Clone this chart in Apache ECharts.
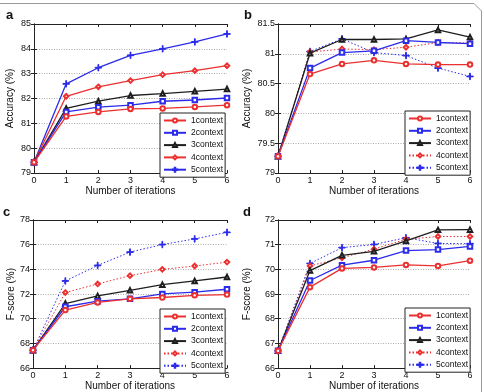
<!DOCTYPE html>
<html><head><meta charset="utf-8">
<script src="https://cdn.jsdelivr.net/npm/echarts@6/dist/echarts.min.js"></script>
<style>html,body{margin:0;padding:0;background:#fff}#c{width:484px;height:392px}</style>
</head><body><div id="c"></div>
<script>
const iterations = [0,1,2,3,4,5,6];
const contexts = ['1context','2context','3context','4context','5context'];
// Panel a: Accuracy (%)
const a1 = [79.43,81.28,81.46,81.58,81.60,81.66,81.73];
const a2 = [79.43,81.46,81.65,81.73,81.89,81.94,82.02];
const a3 = [79.43,81.60,81.89,82.12,82.20,82.29,82.38];
const a4 = [79.43,82.09,82.47,82.72,82.96,83.12,83.32];
const a5 = [79.43,82.59,83.24,83.74,84.00,84.28,84.60];
// Panel b: Accuracy (%)
const b1 = [79.28,80.66,80.83,80.89,80.83,80.82,80.82];
const b2 = [79.28,80.76,81.02,81.05,81.22,81.19,81.17];
const b3 = [79.28,81.01,81.24,81.24,81.25,81.40,81.28];
const b4 = [79.28,81.03,81.08,81.07,81.11,81.19,81.18];
const b5 = [79.28,81.04,81.25,81.02,80.97,80.76,80.62];
// Panel c: F-score (%)
const c1 = [67.45,70.70,71.32,71.61,71.72,71.90,71.96];
const c2 = [67.45,70.97,71.42,71.61,72.01,72.15,72.39];
const c3 = [67.45,71.23,71.85,72.30,72.76,73.06,73.38];
const c4 = [67.45,72.12,72.82,73.49,74.00,74.27,74.59];
const c5 = [67.45,73.06,74.32,75.40,76.01,76.47,77.00];
// Panel d: F-score (%)
const d1 = [66.70,69.28,70.04,70.08,70.18,70.14,70.35];
const d2 = [66.70,69.55,70.17,70.37,70.76,70.80,70.93];
const d3 = [66.70,69.95,70.57,70.73,71.15,71.60,71.61];
const d4 = [66.70,70.14,70.47,70.82,71.22,71.33,71.33];
const d5 = [66.70,70.24,70.88,71.01,71.28,71.05,71.04];

const panels = [
  {key:'a', data:[a1,a2,a3,a4,a5], yMin:79, yMax:85, yInt:1, yName:'Accuracy (%)', dotted:[false,false,false,false,false],
   grid:{left:34,top:24,width:193,height:149}, legend:{left:160,top:113}, nameGap:19, letter:[6,9]},
  {key:'b', data:[b1,b2,b3,b4,b5], yMin:79, yMax:81.5, yInt:0.5, yName:'Accuracy (%)', dotted:[false,false,false,true,true],
   grid:{left:278,top:24,width:192,height:149}, legend:{left:405,top:111}, nameGap:26, letter:[244,9]},
  {key:'c', data:[c1,c2,c3,c4,c5], yMin:66, yMax:78, yInt:2, yName:'F-score (%)', dotted:[false,false,false,true,true],
   grid:{left:33,top:220,width:194,height:149}, legend:{left:160,top:309}, nameGap:17, letter:[3,206]},
  {key:'d', data:[d1,d2,d3,d4,d5], yMin:66, yMax:72, yInt:1, yName:'F-score (%)', dotted:[false,false,false,true,true],
   grid:{left:278,top:220,width:192,height:149}, legend:{left:405,top:308}, nameGap:26, letter:[243,206]}
];
const RED='#ec2f2f', BLUE='#2b2bea', BLACK='#1e1e1e';
const colors=[RED,BLUE,BLACK,RED,BLUE];
const symbols=['emptyCircle','emptyRect','emptyTriangle','emptyDiamond','path://M0,4.4H10V5.6H0Z M4.4,0H5.6V10H4.4Z'];
const symSizes=[4.5,4.5,4.5,4.5,6.5];
const FONT='Liberation Sans';

const grids=[], xAxes=[], yAxes=[], series=[], legends=[], graphics=[];
panels.forEach((p,i)=>{
  grids.push(Object.assign({containLabel:false}, p.grid));
  const tick={show:true,inside:true,length:3,lineStyle:{color:'#222'}};
  const line={show:true,lineStyle:{color:'#222',width:1}};
  xAxes.push({gridIndex:i,type:'value',min:0,max:6,interval:1,position:'bottom',
    axisLine:line,axisTick:tick,splitLine:{show:false},
    axisLabel:{color:'#111',fontFamily:FONT,fontSize:9,margin:3},
    name:'Number of iterations',nameLocation:'middle',nameGap:12,
    nameTextStyle:{color:'#111',fontFamily:FONT,fontSize:10}});
  xAxes.push({gridIndex:i,type:'value',min:0,max:6,interval:1,position:'top',
    axisLine:line,axisTick:tick,splitLine:{show:false},axisLabel:{show:false}});
  yAxes.push({gridIndex:i,type:'value',min:p.yMin,max:p.yMax,interval:p.yInt,position:'left',
    axisLine:line,axisTick:tick,
    splitLine:{show:true,lineStyle:{color:'#aaa',type:[1,1.5],width:1}},
    axisLabel:{color:'#111',fontFamily:FONT,fontSize:9,margin:3},
    name:p.yName,nameLocation:'middle',nameGap:p.nameGap,nameRotate:90,
    nameTextStyle:{color:'#111',fontFamily:FONT,fontSize:10}});
  yAxes.push({gridIndex:i,type:'value',min:p.yMin,max:p.yMax,interval:p.yInt,position:'right',
    axisLine:line,axisTick:tick,splitLine:{show:false},axisLabel:{show:false}});
  const names=[];
  p.data.forEach((vals,k)=>{
    const nm=p.key+':'+contexts[k];
    names.push(nm);
    series.push({name:nm,type:'line',xAxisIndex:i*2,yAxisIndex:i*2,
      data:iterations.map((x,j)=>[x,vals[j]]),
      symbol:symbols[k],symbolSize:symSizes[k],showSymbol:true,showAllSymbol:true,
      lineStyle:{color:colors[k],width:p.dotted[k]?1:1.3,type:p.dotted[k]?[1.5,2]:'solid'},
      itemStyle:{color:colors[k],borderColor:colors[k],borderWidth:1},
      z:10-k, animation:false});
  });
  legends.push({data:names,left:p.legend.left,top:p.legend.top,orient:'vertical',
    backgroundColor:'#fff',borderColor:'#222',borderWidth:1,padding:[3,2,3,3],
    itemWidth:22,itemHeight:5,itemGap:3.3,
    formatter:n=>n.split(':')[1],
    textStyle:{color:'#111',fontFamily:FONT,fontSize:8.5,lineHeight:7.5},
    selectedMode:false});
  graphics.push({type:'text',left:p.letter[0],top:p.letter[1],
    style:{text:p.key,font:'bold 13px "Liberation Sans"',fill:'#111'}});
});
graphics.push({type:'polyline',shape:{points:[[0,3.5],[474,3.5],[481.5,11],[481.5,392]]},
  style:{stroke:'#999',fill:null,lineWidth:1}});

const chart=echarts.init(document.getElementById('c'),null,{renderer:'canvas'});
chart.setOption({animation:false,grid:grids,xAxis:xAxes,yAxis:yAxes,series:series,legend:legends,graphic:graphics});
</script></body></html>
